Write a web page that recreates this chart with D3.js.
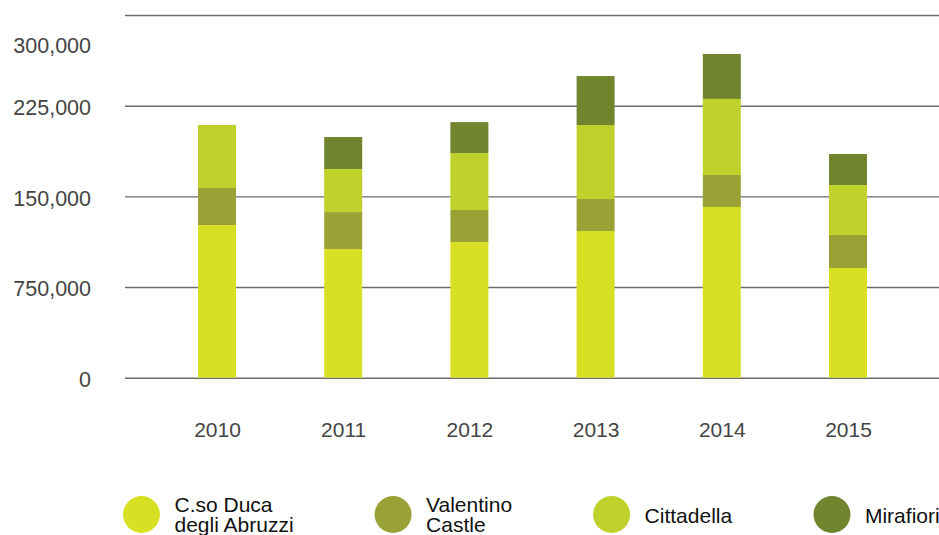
<!DOCTYPE html>
<html>
<head>
<meta charset="utf-8">
<script src="https://cdn.jsdelivr.net/npm/d3@7"></script>
<style>
  body { margin: 0; background: #fff; }
  text { font-family: "Liberation Sans", Arial, sans-serif; }
</style>
</head>
<body>
<div id="chart"></div>
<script>
// values
let years = ["2010", "2011", "2012", "2013", "2014", "2015"]
let corsoDuca  = [126300, 106400, 112200, 121300, 141200, 90700]
let valentino  = [30600, 30600, 26500, 26500, 26500, 27300]
let cittadella = [52100, 35600, 47100, 61200, 62900, 41400]
let mirafiori  = [0, 26500, 25600, 40500, 37200, 25600]

let seriesNames = [["C.so Duca", "degli Abruzzi"], ["Valentino", "Castle"], ["Cittadella"], ["Mirafiori"]]
let tickValues = [0, 75000, 150000, 225000, 300000]
let tickLabels = ["0", "750,000", "150,000", "225,000", "300,000"]

let colors = ["#d7e023", "#9ba235", "#bfd12a", "#71852e"]

let width = 939, height = 535
let margin = {top: 15, right: 0, bottom: 157, left: 125}

let keys = ["corso", "valentino", "cittadella", "mirafiori"]
let table = years.map((y, i) => ({
    year: y,
    corso: corsoDuca[i],
    valentino: valentino[i],
    cittadella: cittadella[i],
    mirafiori: mirafiori[i]
}))

let stacked = d3.stack().keys(keys)(table)

let svg = d3.select('#chart')
            .append('svg')
            .attr('width', width)
            .attr('height', height)

let y = d3.scaleLinear()
          .domain([0, 300000])
          .range([height - margin.bottom - 0.3, margin.top])

let x = d3.scalePoint()
          .domain(years)
          .range([217, 848])

let barW = 38

// gridlines + y labels
let yAxis = d3.axisLeft(y)
              .tickValues(tickValues)
              .tickFormat((d, i) => tickLabels[i])
              .tickSize(-(width - margin.left))
              .tickPadding(34)

let gy = svg.append('g')
    .attr('transform', "translate(" + margin.left + ",0)")
    .call(yAxis)
gy.select('.domain').remove()
gy.selectAll('.tick line')
    .attr('stroke', '#6b6b6b')
    .attr('stroke-width', 1.4)
gy.selectAll('.tick text')
    .attr('fill', '#444')
    .style('font-size', '21.5px')
    .attr('y', 2)
// the top label sits below its line in the original
gy.selectAll('.tick text')
    .filter(d => d === 300000)
    .attr('y', 31)

// bars
let layers = svg.selectAll('.layer')
    .data(stacked)
    .enter()
    .append('g')
    .attr('class', 'layer')
    .attr('fill', (d, i) => colors[i])

layers.selectAll('rect')
    .data(d => d)
    .enter().append('rect')
    .attr('x', d => x(d.data.year) - barW / 2)
    .attr('width', barW)
    .attr('y', d => y(d[1]))
    .attr('height', d => y(d[0]) - y(d[1]))

// x labels
let xAxis = d3.axisBottom(x).tickSize(0).tickPadding(44)
let gx = svg.append('g')
    .attr('transform', "translate(0," + y(0) + ")")
    .call(xAxis)
gx.select('.domain').remove()
gx.selectAll('.tick text')
    .attr('fill', '#444')
    .style('font-size', '21px')

// legend
let legendY = 514.5
let lx = 141.5
seriesNames.forEach((lines, i) => {
    let g = svg.append('g').attr('transform', "translate(" + lx + "," + legendY + ")")
    g.append('circle').attr('r', 18.5).attr('fill', colors[i])
    let t = g.append('text')
        .attr('x', 33)
        .attr('fill', '#111')
        .style('font-size', '21px')
    if (lines.length == 1) {
        t.append('tspan').attr('x', 33).attr('y', 8).text(lines[0])
    } else {
        t.append('tspan').attr('x', 33).attr('y', -2.5).text(lines[0])
        t.append('tspan').attr('x', 33).attr('y', 17.5).text(lines[1])
    }
    let tw = t.node().getBBox().width
    lx += 33 + tw + 81 + 18.5
})
</script>
</body>
</html>
